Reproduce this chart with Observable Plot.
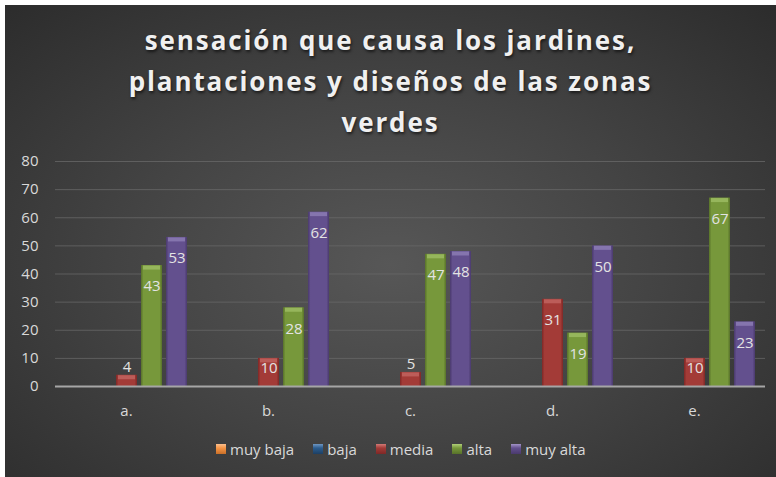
<!DOCTYPE html>
<html>
<head>
<meta charset="utf-8">
<script src="https://cdn.jsdelivr.net/npm/d3@7"></script>
<script src="https://cdn.jsdelivr.net/npm/@observablehq/plot@0.6"></script>
<style>
  html, body { margin: 0; padding: 0; background: #ffffff; }
  #chart {
    position: absolute; left: 5px; top: 5px; width: 771px; height: 472px; overflow: hidden;
    background: radial-gradient(ellipse 75% 80% at 50% 55%, #575757 0%, #444444 45%, #2a2a2a 100%);
    font-family: "Open Sans", sans-serif;
  }
  #title {
    position: absolute; left: 0; top: 15px; width: 771px; text-align: center;
    color: #f0f0f0; font-weight: 700; font-size: 26px; line-height: 41px; letter-spacing: 1.9px;
    text-shadow: 1px 2px 3px rgba(0,0,0,0.6);
  }
  #plot { position: absolute; left: 0; top: 135px; }
  #legend {
    position: absolute; left: 211px; top: 434px; display: flex; align-items: center;
    color: #d9d9d9; font-size: 15px; white-space: nowrap;
  }
  .item { display: flex; align-items: center; margin-right: 19px; }
  .sw { width: 10px; height: 10px; margin-right: 4px; }
</style>
</head>
<body>
<div id="chart">
  <div id="title">sensación que causa los jardines,<br>plantaciones y diseños de las zonas<br>verdes</div>
  <div id="plot"></div>
  <div id="legend"></div>
</div>
<script>
const categories = ["a.", "b.", "c.", "d.", "e."];
const series = ["muy baja", "baja", "media", "alta", "muy alta"];
const muyBaja = [0, 0, 0, 0, 0];
const baja = [0, 0, 0, 0, 0];
const media = [4, 10, 5, 31, 10];
const alta = [43, 28, 47, 19, 67];
const muyAlta = [53, 62, 48, 50, 23];
const yTicks = [0, 10, 20, 30, 40, 50, 60, 70, 80];

const baseColors = ["#f79646", "#2c5d8f", "#a33b37", "#77983b", "#63508e"];
const darkColors = ["#c86f28", "#1d3f63", "#7e2826", "#58722a", "#4a3a6d"];
const capColors  = ["#fbc08e", "#6f97c2", "#d27a76", "#b0cf78", "#a394c8"];

const valuesBySeries = [muyBaja, baja, media, alta, muyAlta];
const data = [];
categories.forEach((c, i) => {
  series.forEach((s, j) => {
    data.push({cat: c, series: s, si: j, value: valuesBySeries[j][i]});
  });
});
const nonZero = data.filter(d => d.value > 0);

const plot = Plot.plot({
  width: 771,
  height: 290,
  marginTop: 21,
  marginBottom: 44,
  marginLeft: 49,
  marginRight: 11,
  style: {background: "transparent", fontFamily: "Open Sans, sans-serif", fontSize: "15px", color: "#d9d9d9"},
  fx: {domain: categories, padding: 0, label: null, axis: null},
  x: {domain: series, paddingInner: 0.176, paddingOuter: 0.376, axis: null},
  y: {domain: [0, 80], axis: null},
  color: {type: "identity"},
  marks: [
    Plot.ruleY(yTicks.filter(t => t > 0), {stroke: "#6a6a6a", strokeOpacity: 0.75, strokeWidth: 1}),
    Plot.barY(nonZero, {fx: "cat", x: "series", y: "value", fill: d => `url(#grad${d.si})`}),
    Plot.tickY(nonZero, {fx: "cat", x: "series", y: "value", stroke: d => capColors[d.si], strokeOpacity: 0.55, strokeWidth: 4, dy: 2, insetLeft: 2, insetRight: 2}),
    Plot.ruleY([0], {stroke: "#a6a6a6", strokeWidth: 2}),
    Plot.text(nonZero.filter(d => d.value >= 15), {fx: "cat", x: "series", y: "value", text: d => String(d.value), dy: 21, fill: "#e3e3e3", fontSize: 15}),
    Plot.text(nonZero.filter(d => d.value >= 8 && d.value < 15), {fx: "cat", x: "series", y: "value", text: d => String(d.value), dy: 10, fill: "#e3e3e3", fontSize: 15}),
    Plot.text(nonZero.filter(d => d.value < 8), {fx: "cat", x: "series", y: "value", text: d => String(d.value), dy: -8, fill: "#e3e3e3", fontSize: 15}),
    Plot.axisY(yTicks, {tickSize: 0, tickPadding: 17, fill: "#d9d9d9", fontSize: 15, label: null}),
    Plot.axisFx({anchor: "bottom", tickSize: 0, tickPadding: 19, fill: "#d9d9d9", fontSize: 15, label: null})
  ]
});

let defs = `<defs>`;
baseColors.forEach((c, i) => {
  defs += `<linearGradient id="grad${i}" x1="0" x2="1" y1="0" y2="0">
    <stop offset="0" stop-color="${darkColors[i]}"/>
    <stop offset="0.12" stop-color="${baseColors[i]}"/>
    <stop offset="0.88" stop-color="${baseColors[i]}"/>
    <stop offset="1" stop-color="${darkColors[i]}"/>
  </linearGradient>`;
});
defs += `</defs>`;
plot.insertAdjacentHTML("afterbegin", defs);
document.getElementById("plot").appendChild(plot);

const legend = document.getElementById("legend");
series.forEach((s, i) => {
  const item = document.createElement("div");
  item.className = "item";
  const sw = document.createElement("div");
  sw.className = "sw";
  sw.style.background = `linear-gradient(180deg, ${capColors[i]} 0%, ${baseColors[i]} 40%, ${darkColors[i]} 100%)`;
  const lbl = document.createElement("span");
  lbl.textContent = s;
  item.appendChild(sw);
  item.appendChild(lbl);
  legend.appendChild(item);
});
</script>
</body>
</html>
